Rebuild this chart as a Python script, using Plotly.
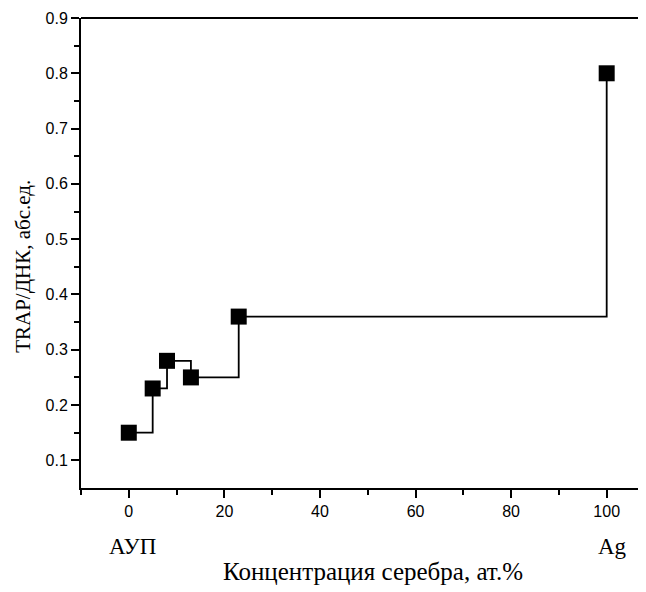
import plotly.graph_objects as go

conc = [0, 5, 8, 13, 23, 100]
trap = [0.15, 0.23, 0.28, 0.25, 0.36, 0.80]
end_labels = ["АУП", "Ag"]
end_label_x = [0.8, 101.3]
x_ticks = [0, 20, 40, 60, 80, 100]
y_ticks = [0.1, 0.2, 0.3, 0.4, 0.5, 0.6, 0.7, 0.8, 0.9]

fig = go.Figure()
fig.add_trace(go.Scatter(
    x=conc, y=trap, mode="lines+markers", line_shape="hv",
    line=dict(color="black", width=1.8),
    marker=dict(symbol="square", size=16, color="black"),
    showlegend=False))

for t, xv in zip(end_labels, end_label_x):
    fig.add_annotation(x=xv, y=0, xref="x", yref="paper", yshift=-58, yanchor="middle",
                       text=t, showarrow=False,
                       font=dict(family="Liberation Serif", size=23, color="black"))

fig.add_annotation(x=51, y=0, xref="x", yref="paper", yshift=-83, yanchor="middle",
                   text="Концентрация серебра, ат.%", showarrow=False,
                   font=dict(family="Liberation Serif", size=25, color="black"))

fig.add_annotation(x=0, y=0.45, xref="paper", yref="y", xshift=-58, xanchor="center",
                   yanchor="middle", textangle=-90,
                   text="TRAP/ДНК, абс.ед.", showarrow=False,
                   font=dict(family="Liberation Serif", size=21, color="black"))

fig.update_xaxes(range=[-10, 109.9], tickvals=x_ticks, automargin=False,
                 ticks="outside", ticklen=8, tickwidth=1.5, tickcolor="black",
                 minor=dict(tickvals=[-10, 10, 30, 50, 70, 90], ticks="outside", ticklen=5, tickwidth=1.5, tickcolor="black"),
                 showline=True, linecolor="black", linewidth=2, showgrid=False, zeroline=False,
                 tickfont=dict(family="Liberation Sans", size=16, color="black"))
fig.update_yaxes(range=[0.05, 0.9], tickvals=y_ticks, automargin=False,
                 ticks="outside", ticklen=8, tickwidth=1.5, tickcolor="black",
                 minor=dict(tickvals=[0.15, 0.25, 0.35, 0.45, 0.55, 0.65, 0.75, 0.85], ticks="outside", ticklen=5, tickwidth=1.5, tickcolor="black"),
                 showline=True, linecolor="black", linewidth=2, showgrid=False, zeroline=False,
                 tickfont=dict(family="Liberation Sans", size=16, color="black"))

fig.add_shape(type="line", xref="paper", yref="paper", x0=0, x1=1, y0=1, y1=1,
              line=dict(color="black", width=2))

fig.update_layout(width=646, height=592, margin=dict(l=73, r=0, t=10, b=112),
                  plot_bgcolor="white", paper_bgcolor="white")

fig.write_html("out.html")
